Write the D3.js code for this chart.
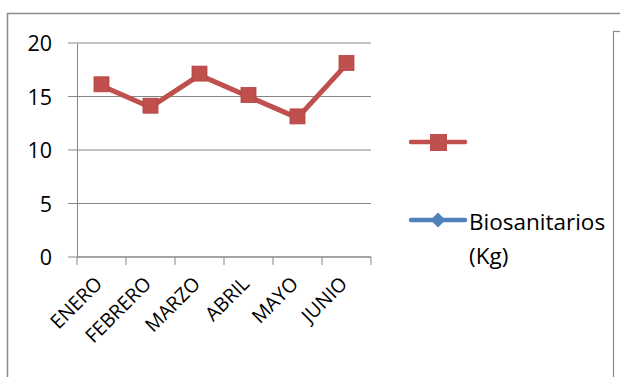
<!DOCTYPE html>
<html>
<head>
<meta charset="utf-8">
<script src="https://cdn.jsdelivr.net/npm/d3@7/dist/d3.min.js"></script>
<style>
  html, body { margin: 0; padding: 0; background: #fff; }
  svg { display: block; font-family: "Open Sans", "Liberation Sans", sans-serif; }
</style>
</head>
<body>
<svg id="chart" width="620" height="377"></svg>
<script>
// Monthly data
const months = ["ENERO", "FEBRERO", "MARZO", "ABRIL", "MAYO", "JUNIO"];
const biosanitarios = [16, 14, 17, 15, 13, 18];
const secondSeries = [16, 14, 17, 15, 13, 18];
const yTicks = [0, 5, 10, 15, 20];

const svg = d3.select("#chart");
const blue = "#4F81BD", red = "#C0504D", gridColor = "#878787";

// Outer chart frame (extends past the canvas right and bottom)
svg.append("rect").attr("x", 7.5).attr("y", 13.5).attr("width", 700).attr("height", 500)
  .attr("fill", "none").attr("stroke", "#8c8c8c").attr("stroke-width", 1.5);
// Side box
svg.append("rect").attr("x", 613.5).attr("y", 31.5).attr("width", 100).attr("height", 500)
  .attr("fill", "none").attr("stroke", "#8c8c8c").attr("stroke-width", 1.2);

const plot = { left: 77, right: 371, top: 43, bottom: 257 };
const x = d3.scaleBand().domain(months).range([plot.left, plot.right]);
const y = d3.scaleLinear().domain([0, 20]).range([plot.bottom, plot.top]);

// Horizontal gridlines with left tick extensions
const grid = svg.append("g");
yTicks.forEach(t => {
  grid.append("line").attr("x1", plot.left - 9).attr("x2", plot.right)
    .attr("y1", y(t)).attr("y2", y(t)).attr("stroke", gridColor).attr("stroke-width", 1);
});

// Y axis
const yAxis = d3.axisLeft(y).tickValues(yTicks).tickSize(0).tickPadding(25);
const gy = svg.append("g").attr("transform", `translate(${plot.left},0)`).call(yAxis);
gy.select(".domain").attr("stroke", gridColor);
gy.selectAll("text").attr("font-size", 21.5).attr("fill", "#000").attr("dy", "0.36em")
  .attr("font-family", "'Open Sans', sans-serif");

// X axis with ticks at category boundaries
const gx = svg.append("g").attr("transform", `translate(0,${plot.bottom})`);
gx.append("line").attr("x1", plot.left).attr("x2", plot.right).attr("stroke", gridColor);
const boundaries = months.map(m => x(m)).concat([x.range()[1]]);
gx.selectAll("line.tick").data(boundaries).enter().append("line")
  .attr("x1", d => d).attr("x2", d => d).attr("y1", 0).attr("y2", 8).attr("stroke", gridColor);
gx.selectAll("text").data(months).enter().append("text")
  .attr("transform", d => `translate(${x(d) + x.bandwidth() / 2 + 2},${28}) rotate(-45)`)
  .attr("text-anchor", "end").attr("font-size", 19.5).attr("fill", "#000").text(d => d);

const cx = d => x(d) + x.bandwidth() / 2;
const line = d3.line().x((d, i) => cx(months[i])).y(d => y(d));

// Series 1: Biosanitarios (blue, diamonds)
svg.append("path").datum(biosanitarios).attr("d", line).attr("fill", "none")
  .attr("stroke", blue).attr("stroke-width", 4).attr("stroke-linejoin", "round");
svg.selectAll("path.dia").data(biosanitarios).enter().append("path")
  .attr("d", d3.symbol().type(d3.symbolDiamond2).size(90))
  .attr("transform", (d, i) => `translate(${cx(months[i])},${y(d)})`).attr("fill", blue);

// Series 2 (red, squares) drawn on top
svg.append("path").datum(secondSeries).attr("d", line).attr("fill", "none")
  .attr("stroke", red).attr("stroke-width", 5).attr("stroke-linejoin", "round");
svg.selectAll("rect.sq").data(secondSeries).enter().append("rect")
  .attr("x", (d, i) => cx(months[i]) - 7.5).attr("y", d => y(d) - 7.5 - 1.5)
  .attr("width", 15).attr("height", 15).attr("fill", red).attr("stroke", "#B5423F").attr("stroke-width", 0.8);

// Legend
const lg = svg.append("g");
lg.append("line").attr("x1", 411).attr("x2", 465).attr("y1", 142).attr("y2", 142)
  .attr("stroke", red).attr("stroke-width", 4.5).attr("stroke-linecap", "round");
lg.append("rect").attr("x", 430).attr("y", 134).attr("width", 17).attr("height", 17).attr("fill", red);

lg.append("line").attr("x1", 411).attr("x2", 465).attr("y1", 220).attr("y2", 220)
  .attr("stroke", blue).attr("stroke-width", 4.5).attr("stroke-linecap", "round");
lg.append("path").attr("d", d3.symbol().type(d3.symbolDiamond2).size(140))
  .attr("transform", "translate(438,220)").attr("fill", blue);

const lt = lg.append("text").attr("x", 469).attr("font-size", 22.5).attr("fill", "#000");
lt.append("tspan").attr("x", 469).attr("y", 230).text("Biosanitarios");
lt.append("tspan").attr("x", 469).attr("y", 264).text("(Kg)");
</script>
</body>
</html>
